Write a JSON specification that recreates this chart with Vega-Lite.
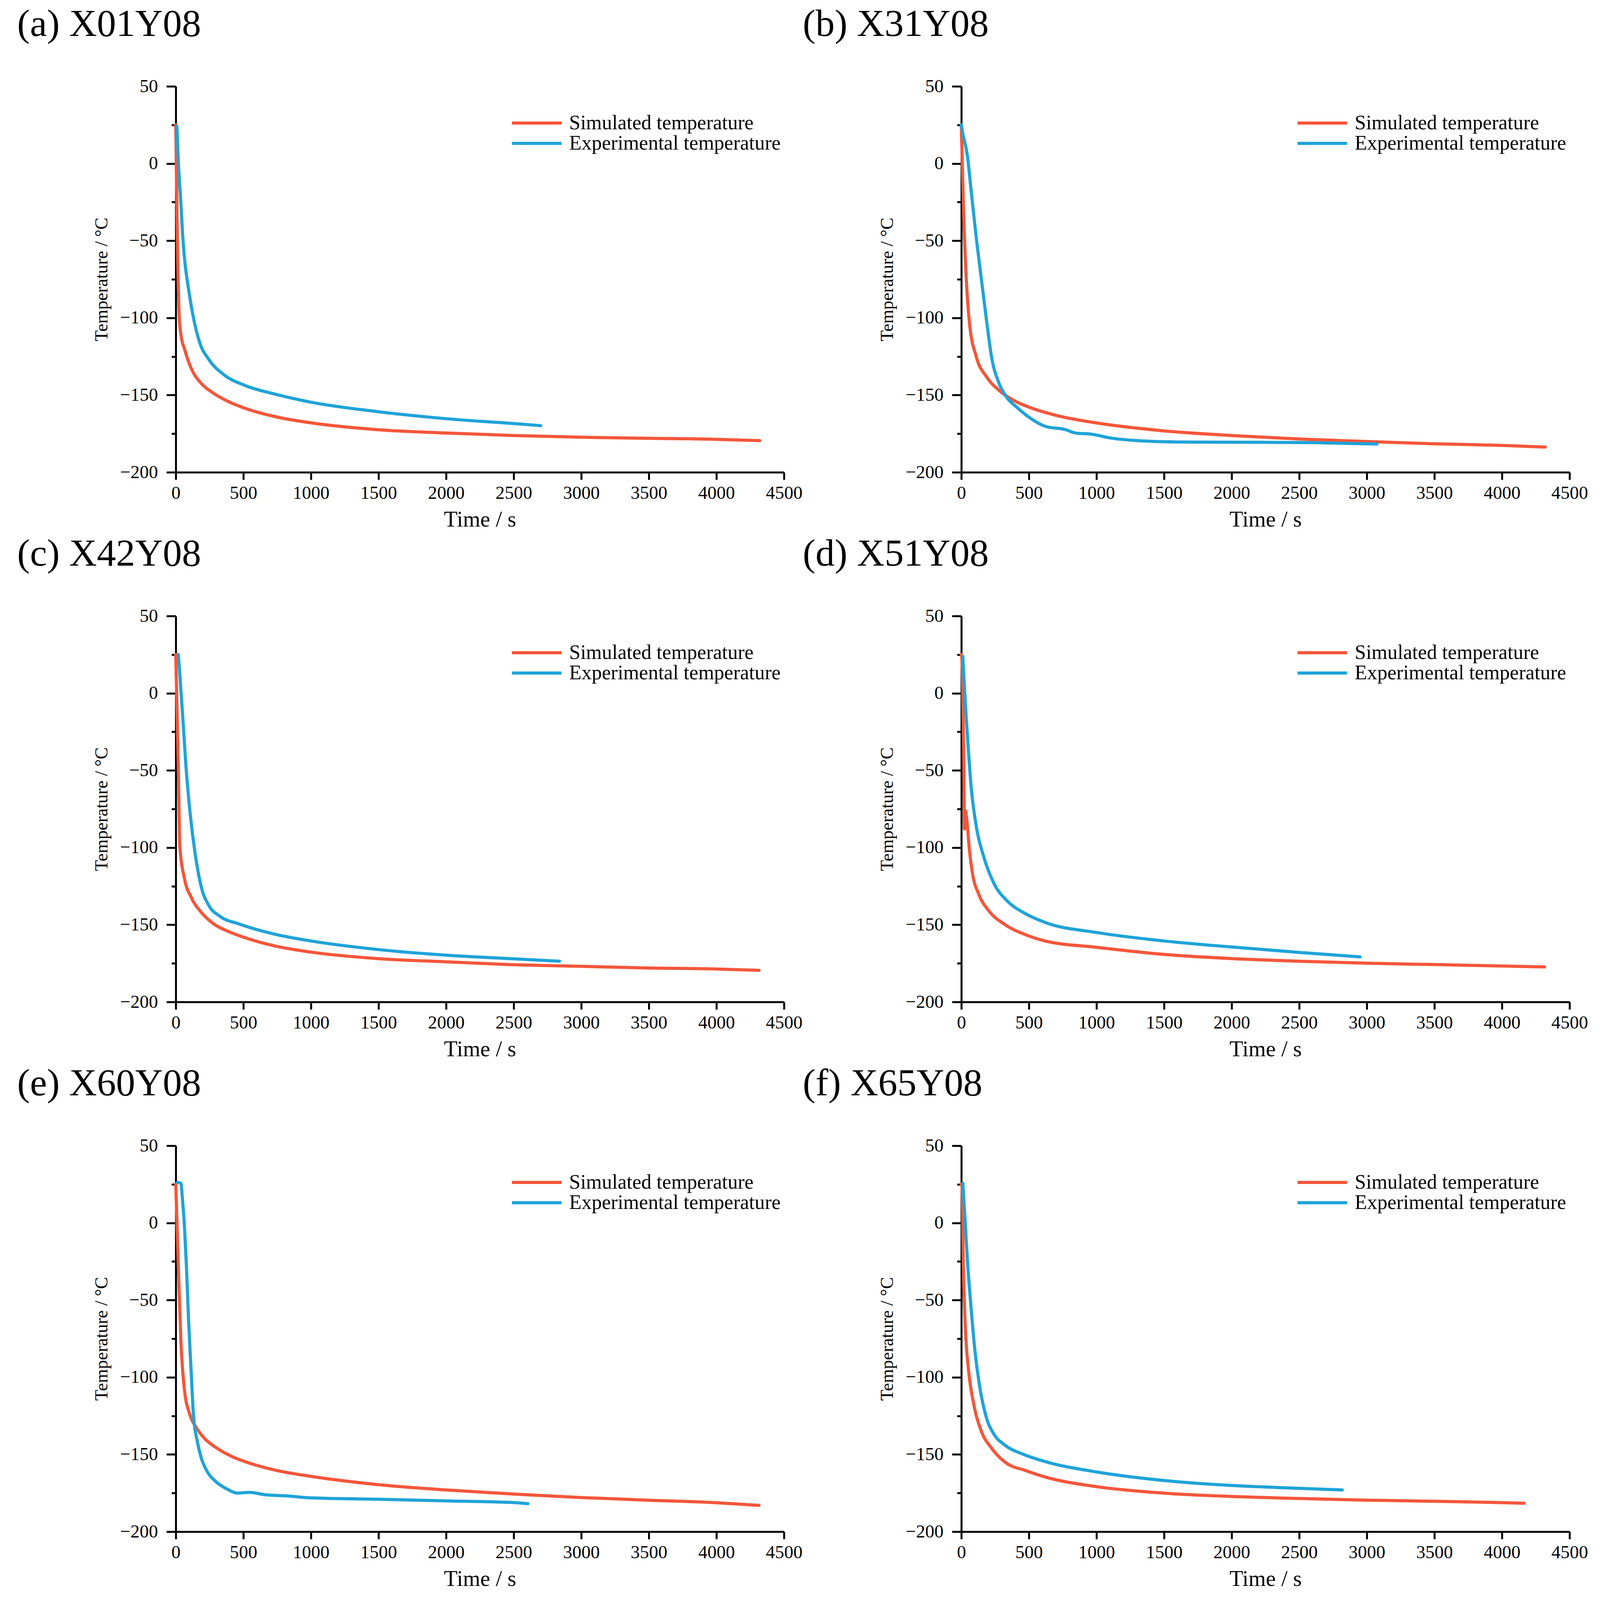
{
  "$schema": "https://vega.github.io/schema/vega-lite/v6.json",
  "background": "white",
  "padding": {"left": 44, "top": 14, "right": 0, "bottom": 0},
  "datasets": {
    "temps": [
      {"panel": "a", "series": "Simulated temperature", "t": 0, "T": 25},
      {"panel": "a", "series": "Simulated temperature", "t": 10, "T": -40},
      {"panel": "a", "series": "Simulated temperature", "t": 26, "T": -100},
      {"panel": "a", "series": "Simulated temperature", "t": 40, "T": -112},
      {"panel": "a", "series": "Simulated temperature", "t": 64, "T": -120},
      {"panel": "a", "series": "Simulated temperature", "t": 113, "T": -132.5},
      {"panel": "a", "series": "Simulated temperature", "t": 189, "T": -142.5},
      {"panel": "a", "series": "Simulated temperature", "t": 283, "T": -149},
      {"panel": "a", "series": "Simulated temperature", "t": 396, "T": -154.5},
      {"panel": "a", "series": "Simulated temperature", "t": 510, "T": -158.5},
      {"panel": "a", "series": "Simulated temperature", "t": 736, "T": -164},
      {"panel": "a", "series": "Simulated temperature", "t": 1000, "T": -168},
      {"panel": "a", "series": "Simulated temperature", "t": 1491, "T": -172.4},
      {"panel": "a", "series": "Simulated temperature", "t": 2000, "T": -174.6},
      {"panel": "a", "series": "Simulated temperature", "t": 2510, "T": -176.2},
      {"panel": "a", "series": "Simulated temperature", "t": 3000, "T": -177.3},
      {"panel": "a", "series": "Simulated temperature", "t": 3492, "T": -178},
      {"panel": "a", "series": "Simulated temperature", "t": 3983, "T": -178.6},
      {"panel": "a", "series": "Simulated temperature", "t": 4320, "T": -179.5},
      {"panel": "a", "series": "Experimental temperature", "t": 8, "T": 24},
      {"panel": "a", "series": "Experimental temperature", "t": 19, "T": 1},
      {"panel": "a", "series": "Experimental temperature", "t": 38, "T": -26},
      {"panel": "a", "series": "Experimental temperature", "t": 50, "T": -45},
      {"panel": "a", "series": "Experimental temperature", "t": 64, "T": -61},
      {"panel": "a", "series": "Experimental temperature", "t": 94, "T": -81},
      {"panel": "a", "series": "Experimental temperature", "t": 132, "T": -100.5},
      {"panel": "a", "series": "Experimental temperature", "t": 177, "T": -116},
      {"panel": "a", "series": "Experimental temperature", "t": 245, "T": -127},
      {"panel": "a", "series": "Experimental temperature", "t": 359, "T": -137},
      {"panel": "a", "series": "Experimental temperature", "t": 510, "T": -143.7},
      {"panel": "a", "series": "Experimental temperature", "t": 736, "T": -149.4},
      {"panel": "a", "series": "Experimental temperature", "t": 1000, "T": -154.6},
      {"panel": "a", "series": "Experimental temperature", "t": 1491, "T": -160.7},
      {"panel": "a", "series": "Experimental temperature", "t": 2000, "T": -165.3},
      {"panel": "a", "series": "Experimental temperature", "t": 2510, "T": -168.5},
      {"panel": "a", "series": "Experimental temperature", "t": 2700, "T": -169.8},

      {"panel": "b", "series": "Simulated temperature", "t": 0, "T": 25},
      {"panel": "b", "series": "Simulated temperature", "t": 15, "T": -26},
      {"panel": "b", "series": "Simulated temperature", "t": 34, "T": -70},
      {"panel": "b", "series": "Simulated temperature", "t": 60, "T": -103},
      {"panel": "b", "series": "Simulated temperature", "t": 110, "T": -125},
      {"panel": "b", "series": "Simulated temperature", "t": 185, "T": -138},
      {"panel": "b", "series": "Simulated temperature", "t": 280, "T": -147},
      {"panel": "b", "series": "Simulated temperature", "t": 393, "T": -153.7},
      {"panel": "b", "series": "Simulated temperature", "t": 506, "T": -158},
      {"panel": "b", "series": "Simulated temperature", "t": 695, "T": -163},
      {"panel": "b", "series": "Simulated temperature", "t": 997, "T": -168},
      {"panel": "b", "series": "Simulated temperature", "t": 1489, "T": -173.1},
      {"panel": "b", "series": "Simulated temperature", "t": 1998, "T": -176.2},
      {"panel": "b", "series": "Simulated temperature", "t": 2490, "T": -178.4},
      {"panel": "b", "series": "Simulated temperature", "t": 3000, "T": -180.1},
      {"panel": "b", "series": "Simulated temperature", "t": 3491, "T": -181.5},
      {"panel": "b", "series": "Simulated temperature", "t": 4001, "T": -182.6},
      {"panel": "b", "series": "Simulated temperature", "t": 4320, "T": -183.7},
      {"panel": "b", "series": "Experimental temperature", "t": 0, "T": 25},
      {"panel": "b", "series": "Experimental temperature", "t": 8, "T": 20.7},
      {"panel": "b", "series": "Experimental temperature", "t": 45, "T": 5},
      {"panel": "b", "series": "Experimental temperature", "t": 72, "T": -17},
      {"panel": "b", "series": "Experimental temperature", "t": 110, "T": -47.7},
      {"panel": "b", "series": "Experimental temperature", "t": 147, "T": -74},
      {"panel": "b", "series": "Experimental temperature", "t": 185, "T": -100.7},
      {"panel": "b", "series": "Experimental temperature", "t": 223, "T": -125},
      {"panel": "b", "series": "Experimental temperature", "t": 280, "T": -142.6},
      {"panel": "b", "series": "Experimental temperature", "t": 336, "T": -151.5},
      {"panel": "b", "series": "Experimental temperature", "t": 412, "T": -158},
      {"panel": "b", "series": "Experimental temperature", "t": 506, "T": -164.7},
      {"panel": "b", "series": "Experimental temperature", "t": 620, "T": -170.2},
      {"panel": "b", "series": "Experimental temperature", "t": 771, "T": -172.4},
      {"panel": "b", "series": "Experimental temperature", "t": 846, "T": -174.6},
      {"panel": "b", "series": "Experimental temperature", "t": 960, "T": -175.3},
      {"panel": "b", "series": "Experimental temperature", "t": 1111, "T": -177.9},
      {"panel": "b", "series": "Experimental temperature", "t": 1300, "T": -179.5},
      {"panel": "b", "series": "Experimental temperature", "t": 1640, "T": -180.4},
      {"panel": "b", "series": "Experimental temperature", "t": 2206, "T": -180.6},
      {"panel": "b", "series": "Experimental temperature", "t": 2584, "T": -180.8},
      {"panel": "b", "series": "Experimental temperature", "t": 3075, "T": -181.7},

      {"panel": "c", "series": "Simulated temperature", "t": 0, "T": 25},
      {"panel": "c", "series": "Simulated temperature", "t": 19, "T": -49},
      {"panel": "c", "series": "Simulated temperature", "t": 30, "T": -99},
      {"panel": "c", "series": "Simulated temperature", "t": 64, "T": -120},
      {"panel": "c", "series": "Simulated temperature", "t": 113, "T": -132},
      {"panel": "c", "series": "Simulated temperature", "t": 189, "T": -142},
      {"panel": "c", "series": "Simulated temperature", "t": 283, "T": -149.6},
      {"panel": "c", "series": "Simulated temperature", "t": 396, "T": -154.6},
      {"panel": "c", "series": "Simulated temperature", "t": 510, "T": -158.3},
      {"panel": "c", "series": "Simulated temperature", "t": 736, "T": -163.8},
      {"panel": "c", "series": "Simulated temperature", "t": 1000, "T": -167.7},
      {"panel": "c", "series": "Simulated temperature", "t": 1491, "T": -171.9},
      {"panel": "c", "series": "Simulated temperature", "t": 2000, "T": -174},
      {"panel": "c", "series": "Simulated temperature", "t": 2510, "T": -175.9},
      {"panel": "c", "series": "Simulated temperature", "t": 3000, "T": -176.9},
      {"panel": "c", "series": "Simulated temperature", "t": 3492, "T": -178},
      {"panel": "c", "series": "Simulated temperature", "t": 3983, "T": -178.6},
      {"panel": "c", "series": "Simulated temperature", "t": 4315, "T": -179.5},
      {"panel": "c", "series": "Experimental temperature", "t": 19, "T": 25},
      {"panel": "c", "series": "Experimental temperature", "t": 30, "T": 12},
      {"panel": "c", "series": "Experimental temperature", "t": 49, "T": -12},
      {"panel": "c", "series": "Experimental temperature", "t": 75, "T": -47},
      {"panel": "c", "series": "Experimental temperature", "t": 106, "T": -77.6},
      {"panel": "c", "series": "Experimental temperature", "t": 143, "T": -103.8},
      {"panel": "c", "series": "Experimental temperature", "t": 189, "T": -125.6},
      {"panel": "c", "series": "Experimental temperature", "t": 245, "T": -137.6},
      {"panel": "c", "series": "Experimental temperature", "t": 321, "T": -144.2},
      {"panel": "c", "series": "Experimental temperature", "t": 472, "T": -149.6},
      {"panel": "c", "series": "Experimental temperature", "t": 736, "T": -156.2},
      {"panel": "c", "series": "Experimental temperature", "t": 1000, "T": -160.5},
      {"panel": "c", "series": "Experimental temperature", "t": 1491, "T": -166},
      {"panel": "c", "series": "Experimental temperature", "t": 2000, "T": -169.7},
      {"panel": "c", "series": "Experimental temperature", "t": 2510, "T": -172.1},
      {"panel": "c", "series": "Experimental temperature", "t": 2839, "T": -173.6},

      {"panel": "d", "series": "Simulated temperature", "t": 0, "T": 25},
      {"panel": "d", "series": "Simulated temperature", "t": 4, "T": 22.7},
      {"panel": "d", "series": "Simulated temperature", "t": 15, "T": -27},
      {"panel": "d", "series": "Simulated temperature", "t": 19, "T": -47},
      {"panel": "d", "series": "Simulated temperature", "t": 23, "T": -88},
      {"panel": "d", "series": "Simulated temperature", "t": 30, "T": -76},
      {"panel": "d", "series": "Simulated temperature", "t": 38, "T": -80},
      {"panel": "d", "series": "Simulated temperature", "t": 45, "T": -86},
      {"panel": "d", "series": "Simulated temperature", "t": 60, "T": -101.6},
      {"panel": "d", "series": "Simulated temperature", "t": 83, "T": -117},
      {"panel": "d", "series": "Simulated temperature", "t": 128, "T": -130},
      {"panel": "d", "series": "Simulated temperature", "t": 204, "T": -141},
      {"panel": "d", "series": "Simulated temperature", "t": 317, "T": -149.6},
      {"panel": "d", "series": "Simulated temperature", "t": 468, "T": -156.2},
      {"panel": "d", "series": "Simulated temperature", "t": 620, "T": -160.5},
      {"panel": "d", "series": "Simulated temperature", "t": 1000, "T": -164.6},
      {"panel": "d", "series": "Simulated temperature", "t": 1500, "T": -169.2},
      {"panel": "d", "series": "Simulated temperature", "t": 2000, "T": -171.9},
      {"panel": "d", "series": "Simulated temperature", "t": 2500, "T": -173.6},
      {"panel": "d", "series": "Simulated temperature", "t": 3000, "T": -174.9},
      {"panel": "d", "series": "Simulated temperature", "t": 3500, "T": -175.8},
      {"panel": "d", "series": "Simulated temperature", "t": 4000, "T": -176.7},
      {"panel": "d", "series": "Simulated temperature", "t": 4315, "T": -177.3},
      {"panel": "d", "series": "Experimental temperature", "t": 11, "T": 23.8},
      {"panel": "d", "series": "Experimental temperature", "t": 26, "T": -1.3},
      {"panel": "d", "series": "Experimental temperature", "t": 45, "T": -27.4},
      {"panel": "d", "series": "Experimental temperature", "t": 72, "T": -60},
      {"panel": "d", "series": "Experimental temperature", "t": 110, "T": -86},
      {"panel": "d", "series": "Experimental temperature", "t": 166, "T": -106},
      {"panel": "d", "series": "Experimental temperature", "t": 242, "T": -123.4},
      {"panel": "d", "series": "Experimental temperature", "t": 336, "T": -134.3},
      {"panel": "d", "series": "Experimental temperature", "t": 468, "T": -142.5},
      {"panel": "d", "series": "Experimental temperature", "t": 620, "T": -148.5},
      {"panel": "d", "series": "Experimental temperature", "t": 1000, "T": -155},
      {"panel": "d", "series": "Experimental temperature", "t": 1500, "T": -160.5},
      {"panel": "d", "series": "Experimental temperature", "t": 2000, "T": -164.4},
      {"panel": "d", "series": "Experimental temperature", "t": 2500, "T": -167.9},
      {"panel": "d", "series": "Experimental temperature", "t": 2950, "T": -170.8},

      {"panel": "e", "series": "Simulated temperature", "t": 0, "T": 25},
      {"panel": "e", "series": "Simulated temperature", "t": 19, "T": -28.5},
      {"panel": "e", "series": "Simulated temperature", "t": 38, "T": -77},
      {"panel": "e", "series": "Simulated temperature", "t": 64, "T": -108},
      {"panel": "e", "series": "Simulated temperature", "t": 102, "T": -123.7},
      {"panel": "e", "series": "Simulated temperature", "t": 151, "T": -132.5},
      {"panel": "e", "series": "Simulated temperature", "t": 208, "T": -139.2},
      {"panel": "e", "series": "Simulated temperature", "t": 302, "T": -145.8},
      {"panel": "e", "series": "Simulated temperature", "t": 415, "T": -151.3},
      {"panel": "e", "series": "Simulated temperature", "t": 510, "T": -154.6},
      {"panel": "e", "series": "Simulated temperature", "t": 736, "T": -160.2},
      {"panel": "e", "series": "Simulated temperature", "t": 1000, "T": -164.2},
      {"panel": "e", "series": "Simulated temperature", "t": 1491, "T": -169.5},
      {"panel": "e", "series": "Simulated temperature", "t": 2000, "T": -173},
      {"panel": "e", "series": "Simulated temperature", "t": 2510, "T": -175.7},
      {"panel": "e", "series": "Simulated temperature", "t": 3000, "T": -177.9},
      {"panel": "e", "series": "Simulated temperature", "t": 3492, "T": -179.6},
      {"panel": "e", "series": "Simulated temperature", "t": 3983, "T": -181.2},
      {"panel": "e", "series": "Simulated temperature", "t": 4315, "T": -183},
      {"panel": "e", "series": "Experimental temperature", "t": 11, "T": 26.3},
      {"panel": "e", "series": "Experimental temperature", "t": 38, "T": 25.7},
      {"panel": "e", "series": "Experimental temperature", "t": 49, "T": 15.7},
      {"panel": "e", "series": "Experimental temperature", "t": 64, "T": -2},
      {"panel": "e", "series": "Experimental temperature", "t": 79, "T": -28.5},
      {"panel": "e", "series": "Experimental temperature", "t": 94, "T": -61.7},
      {"panel": "e", "series": "Experimental temperature", "t": 113, "T": -95},
      {"panel": "e", "series": "Experimental temperature", "t": 132, "T": -126},
      {"panel": "e", "series": "Experimental temperature", "t": 159, "T": -141.4},
      {"panel": "e", "series": "Experimental temperature", "t": 189, "T": -152.4},
      {"panel": "e", "series": "Experimental temperature", "t": 227, "T": -160.2},
      {"panel": "e", "series": "Experimental temperature", "t": 302, "T": -168},
      {"panel": "e", "series": "Experimental temperature", "t": 377, "T": -172.3},
      {"panel": "e", "series": "Experimental temperature", "t": 453, "T": -175},
      {"panel": "e", "series": "Experimental temperature", "t": 547, "T": -174.6},
      {"panel": "e", "series": "Experimental temperature", "t": 661, "T": -176.1},
      {"panel": "e", "series": "Experimental temperature", "t": 812, "T": -176.8},
      {"panel": "e", "series": "Experimental temperature", "t": 1000, "T": -178.1},
      {"panel": "e", "series": "Experimental temperature", "t": 1491, "T": -179},
      {"panel": "e", "series": "Experimental temperature", "t": 2000, "T": -180.1},
      {"panel": "e", "series": "Experimental temperature", "t": 2510, "T": -181.2},
      {"panel": "e", "series": "Experimental temperature", "t": 2605, "T": -181.9},

      {"panel": "f", "series": "Simulated temperature", "t": 0, "T": 25},
      {"panel": "f", "series": "Simulated temperature", "t": 4, "T": 24.6},
      {"panel": "f", "series": "Simulated temperature", "t": 15, "T": -28.5},
      {"panel": "f", "series": "Simulated temperature", "t": 30, "T": -68.4},
      {"panel": "f", "series": "Simulated temperature", "t": 53, "T": -95},
      {"panel": "f", "series": "Simulated temperature", "t": 91, "T": -117},
      {"panel": "f", "series": "Simulated temperature", "t": 147, "T": -134.7},
      {"panel": "f", "series": "Simulated temperature", "t": 223, "T": -145.8},
      {"panel": "f", "series": "Simulated temperature", "t": 290, "T": -152.5},
      {"panel": "f", "series": "Simulated temperature", "t": 336, "T": -155.8},
      {"panel": "f", "series": "Simulated temperature", "t": 468, "T": -160.2},
      {"panel": "f", "series": "Simulated temperature", "t": 620, "T": -164.6},
      {"panel": "f", "series": "Simulated temperature", "t": 997, "T": -170.8},
      {"panel": "f", "series": "Simulated temperature", "t": 1489, "T": -175},
      {"panel": "f", "series": "Simulated temperature", "t": 1998, "T": -177.2},
      {"panel": "f", "series": "Simulated temperature", "t": 2490, "T": -178.5},
      {"panel": "f", "series": "Simulated temperature", "t": 3000, "T": -179.6},
      {"panel": "f", "series": "Simulated temperature", "t": 3491, "T": -180.3},
      {"panel": "f", "series": "Simulated temperature", "t": 4001, "T": -181.2},
      {"panel": "f", "series": "Simulated temperature", "t": 4163, "T": -181.6},
      {"panel": "f", "series": "Experimental temperature", "t": 11, "T": 25.7},
      {"panel": "f", "series": "Experimental temperature", "t": 26, "T": 4.6},
      {"panel": "f", "series": "Experimental temperature", "t": 45, "T": -24},
      {"panel": "f", "series": "Experimental temperature", "t": 72, "T": -55},
      {"panel": "f", "series": "Experimental temperature", "t": 102, "T": -83.8},
      {"panel": "f", "series": "Experimental temperature", "t": 136, "T": -106},
      {"panel": "f", "series": "Experimental temperature", "t": 185, "T": -126},
      {"panel": "f", "series": "Experimental temperature", "t": 242, "T": -137},
      {"panel": "f", "series": "Experimental temperature", "t": 317, "T": -143.6},
      {"panel": "f", "series": "Experimental temperature", "t": 468, "T": -150.2},
      {"panel": "f", "series": "Experimental temperature", "t": 620, "T": -154.6},
      {"panel": "f", "series": "Experimental temperature", "t": 997, "T": -161.3},
      {"panel": "f", "series": "Experimental temperature", "t": 1489, "T": -166.8},
      {"panel": "f", "series": "Experimental temperature", "t": 1998, "T": -170.1},
      {"panel": "f", "series": "Experimental temperature", "t": 2490, "T": -171.9},
      {"panel": "f", "series": "Experimental temperature", "t": 2818, "T": -173}
    ]
  },
  "data": {"name": "temps"},
  "columns": 2,
  "spacing": {"row": 368, "column": 454},
  "bounds": "flush",
  "resolve": {"legend": {"color": "independent"}},
  "concat": [
    {
      "title": "(a) X01Y08",
      "width": 1557, "height": 988,
      "transform": [{"filter": "datum.panel === 'a'"}],
      "layer": [
        {
          "mark": {"type": "line", "interpolate": "monotone", "strokeWidth": 8, "strokeCap": "round"},
          "encoding": {
            "x": {"field": "t", "type": "quantitative", "scale": {"domain": [0, 4500], "nice": false}, "axis": {"values": [0, 500, 1000, 1500, 2000, 2500, 3000, 3500, 4000, 4500], "format": "d", "title": "Time / s", "labelFlush": false}},
            "y": {"field": "T", "type": "quantitative", "scale": {"domain": [-200, 50], "nice": false}, "axis": {"values": [-200, -150, -100, -50, 0, 50], "format": "d", "title": "Temperature / °C"}},
            "color": {"field": "series", "type": "nominal", "scale": {"domain": ["Simulated temperature", "Experimental temperature"], "range": ["#f4563a", "#1fa3d8"]}, "legend": {"title": null}}
          }
        },
        {
          "mark": {"type": "line", "opacity": 0},
          "encoding": {
            "x": {"field": "t", "type": "quantitative"},
            "y": {"field": "T", "type": "quantitative", "axis": {"orient": "left", "values": [-175, -125, -75, -25, 25], "labels": false, "domain": false, "tickSize": 11, "title": null}}
          }
        }
      ],
      "resolve": {"axis": {"y": "independent"}}
    },
    {
      "title": "(b) X31Y08",
      "width": 1557, "height": 988,
      "transform": [{"filter": "datum.panel === 'b'"}],
      "layer": [
        {
          "mark": {"type": "line", "interpolate": "monotone", "strokeWidth": 8, "strokeCap": "round"},
          "encoding": {
            "x": {"field": "t", "type": "quantitative", "scale": {"domain": [0, 4500], "nice": false}, "axis": {"values": [0, 500, 1000, 1500, 2000, 2500, 3000, 3500, 4000, 4500], "format": "d", "title": "Time / s", "labelFlush": false}},
            "y": {"field": "T", "type": "quantitative", "scale": {"domain": [-200, 50], "nice": false}, "axis": {"values": [-200, -150, -100, -50, 0, 50], "format": "d", "title": "Temperature / °C"}},
            "color": {"field": "series", "type": "nominal", "scale": {"domain": ["Simulated temperature", "Experimental temperature"], "range": ["#f4563a", "#1fa3d8"]}, "legend": {"title": null}}
          }
        },
        {
          "mark": {"type": "line", "opacity": 0},
          "encoding": {
            "x": {"field": "t", "type": "quantitative"},
            "y": {"field": "T", "type": "quantitative", "axis": {"orient": "left", "values": [-175, -125, -75, -25, 25], "labels": false, "domain": false, "tickSize": 11, "title": null}}
          }
        }
      ],
      "resolve": {"axis": {"y": "independent"}}
    },
    {
      "title": "(c) X42Y08",
      "width": 1557, "height": 988,
      "transform": [{"filter": "datum.panel === 'c'"}],
      "layer": [
        {
          "mark": {"type": "line", "interpolate": "monotone", "strokeWidth": 8, "strokeCap": "round"},
          "encoding": {
            "x": {"field": "t", "type": "quantitative", "scale": {"domain": [0, 4500], "nice": false}, "axis": {"values": [0, 500, 1000, 1500, 2000, 2500, 3000, 3500, 4000, 4500], "format": "d", "title": "Time / s", "labelFlush": false}},
            "y": {"field": "T", "type": "quantitative", "scale": {"domain": [-200, 50], "nice": false}, "axis": {"values": [-200, -150, -100, -50, 0, 50], "format": "d", "title": "Temperature / °C"}},
            "color": {"field": "series", "type": "nominal", "scale": {"domain": ["Simulated temperature", "Experimental temperature"], "range": ["#f4563a", "#1fa3d8"]}, "legend": {"title": null}}
          }
        },
        {
          "mark": {"type": "line", "opacity": 0},
          "encoding": {
            "x": {"field": "t", "type": "quantitative"},
            "y": {"field": "T", "type": "quantitative", "axis": {"orient": "left", "values": [-175, -125, -75, -25, 25], "labels": false, "domain": false, "tickSize": 11, "title": null}}
          }
        }
      ],
      "resolve": {"axis": {"y": "independent"}}
    },
    {
      "title": "(d) X51Y08",
      "width": 1557, "height": 988,
      "transform": [{"filter": "datum.panel === 'd'"}],
      "layer": [
        {
          "mark": {"type": "line", "interpolate": "monotone", "strokeWidth": 8, "strokeCap": "round"},
          "encoding": {
            "x": {"field": "t", "type": "quantitative", "scale": {"domain": [0, 4500], "nice": false}, "axis": {"values": [0, 500, 1000, 1500, 2000, 2500, 3000, 3500, 4000, 4500], "format": "d", "title": "Time / s", "labelFlush": false}},
            "y": {"field": "T", "type": "quantitative", "scale": {"domain": [-200, 50], "nice": false}, "axis": {"values": [-200, -150, -100, -50, 0, 50], "format": "d", "title": "Temperature / °C"}},
            "color": {"field": "series", "type": "nominal", "scale": {"domain": ["Simulated temperature", "Experimental temperature"], "range": ["#f4563a", "#1fa3d8"]}, "legend": {"title": null}}
          }
        },
        {
          "mark": {"type": "line", "opacity": 0},
          "encoding": {
            "x": {"field": "t", "type": "quantitative"},
            "y": {"field": "T", "type": "quantitative", "axis": {"orient": "left", "values": [-175, -125, -75, -25, 25], "labels": false, "domain": false, "tickSize": 11, "title": null}}
          }
        }
      ],
      "resolve": {"axis": {"y": "independent"}}
    },
    {
      "title": "(e) X60Y08",
      "width": 1557, "height": 988,
      "transform": [{"filter": "datum.panel === 'e'"}],
      "layer": [
        {
          "mark": {"type": "line", "interpolate": "monotone", "strokeWidth": 8, "strokeCap": "round"},
          "encoding": {
            "x": {"field": "t", "type": "quantitative", "scale": {"domain": [0, 4500], "nice": false}, "axis": {"values": [0, 500, 1000, 1500, 2000, 2500, 3000, 3500, 4000, 4500], "format": "d", "title": "Time / s", "labelFlush": false}},
            "y": {"field": "T", "type": "quantitative", "scale": {"domain": [-200, 50], "nice": false}, "axis": {"values": [-200, -150, -100, -50, 0, 50], "format": "d", "title": "Temperature / °C"}},
            "color": {"field": "series", "type": "nominal", "scale": {"domain": ["Simulated temperature", "Experimental temperature"], "range": ["#f4563a", "#1fa3d8"]}, "legend": {"title": null}}
          }
        },
        {
          "mark": {"type": "line", "opacity": 0},
          "encoding": {
            "x": {"field": "t", "type": "quantitative"},
            "y": {"field": "T", "type": "quantitative", "axis": {"orient": "left", "values": [-175, -125, -75, -25, 25], "labels": false, "domain": false, "tickSize": 11, "title": null}}
          }
        }
      ],
      "resolve": {"axis": {"y": "independent"}}
    },
    {
      "title": "(f) X65Y08",
      "width": 1557, "height": 988,
      "transform": [{"filter": "datum.panel === 'f'"}],
      "layer": [
        {
          "mark": {"type": "line", "interpolate": "monotone", "strokeWidth": 8, "strokeCap": "round"},
          "encoding": {
            "x": {"field": "t", "type": "quantitative", "scale": {"domain": [0, 4500], "nice": false}, "axis": {"values": [0, 500, 1000, 1500, 2000, 2500, 3000, 3500, 4000, 4500], "format": "d", "title": "Time / s", "labelFlush": false}},
            "y": {"field": "T", "type": "quantitative", "scale": {"domain": [-200, 50], "nice": false}, "axis": {"values": [-200, -150, -100, -50, 0, 50], "format": "d", "title": "Temperature / °C"}},
            "color": {"field": "series", "type": "nominal", "scale": {"domain": ["Simulated temperature", "Experimental temperature"], "range": ["#f4563a", "#1fa3d8"]}, "legend": {"title": null}}
          }
        },
        {
          "mark": {"type": "line", "opacity": 0},
          "encoding": {
            "x": {"field": "t", "type": "quantitative"},
            "y": {"field": "T", "type": "quantitative", "axis": {"orient": "left", "values": [-175, -125, -75, -25, 25], "labels": false, "domain": false, "tickSize": 11, "title": null}}
          }
        }
      ],
      "resolve": {"axis": {"y": "independent"}}
    }
  ],
  "config": {
    "view": {"stroke": null},
    "font": "Liberation Serif",
    "title": {"font": "Liberation Serif", "fontSize": 98, "fontWeight": "normal", "color": "black", "anchor": "start", "frame": "group", "dx": -406, "offset": 84, "baseline": "alphabetic"},
    "axis": {
      "grid": false,
      "domainColor": "black", "domainWidth": 5,
      "tickColor": "black", "tickWidth": 5,
      "labelFont": "Liberation Serif", "labelFontSize": 47, "labelColor": "black",
      "titleFont": "Liberation Serif", "titleFontWeight": "normal", "titleColor": "black"
    },
    "axisX": {"tickSize": 19, "labelPadding": 11, "titlePadding": 17, "titleFontSize": 57},
    "axisY": {"tickSize": 24, "labelPadding": 22, "titlePadding": 22, "titleFontSize": 46},
    "legend": {
      "orient": "none", "legendX": 898, "legendY": 68, "padding": 0,
      "symbolType": "M-3.17,0H3.17", "symbolSize": 1600, "symbolStrokeWidth": 8,
      "labelFont": "Liberation Serif", "labelFontSize": 52, "labelColor": "black",
      "labelOffset": 57, "labelLimit": 1000, "rowPadding": 0
    }
  }
}
